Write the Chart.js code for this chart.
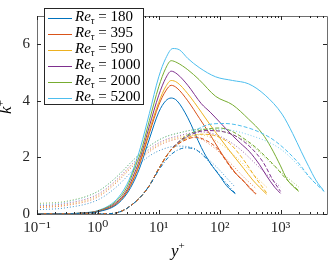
<!DOCTYPE html>
<html><head><meta charset="utf-8">
<script src="https://cdn.jsdelivr.net/npm/chart.js@4"></script>
<style>
html,body{margin:0;padding:0;background:#fff;}
#wrap{position:relative;width:332px;height:261px;overflow:hidden;}
#c{position:absolute;left:0;top:0;}
#legend{position:absolute;left:44px;top:8px;width:100px;height:97px;border:1px solid #262626;background:#fff;box-sizing:border-box;font-family:"Liberation Serif","DejaVu Serif",serif;font-size:15px;color:#000;}
.row{position:absolute;left:0;height:16px;line-height:16px;white-space:nowrap;}
.sw{position:absolute;left:3px;top:8px;width:24px;height:0;border-top:1.3px solid;}
.lt{position:absolute;left:30px;top:-2px;}
.lt sub{font-size:10px;vertical-align:-3px;line-height:0;font-style:italic;}
.ttl{position:absolute;font-family:"Liberation Serif","DejaVu Serif",serif;font-size:17px;font-style:italic;color:#000;white-space:nowrap;}
.ttl sup{font-size:11px;font-style:normal;line-height:0;vertical-align:7px;}
</style></head>
<body>
<div id="wrap">
<canvas id="c" width="332" height="261"></canvas>
<div id="legend"></div>
<div class="ttl" id="ylab" style="left:-1px;top:97px;transform:rotate(-90deg);transform-origin:50% 50%;">k<sup>+</sup></div>
<div class="ttl" id="xlab" style="left:171px;top:241px;">y<sup>+</sup></div>
</div>
<script>
// ---- labels / ticks ----
const reLabels = ['180','395','590','1000','2000','5200'];
const colors = ['#0072BD','#D95319','#EDB120','#7E2F8E','#77AC30','#4DBEEE'];
const xTickValues = [0.1,1,10,100,1000];
const xTickLabels = ['10\u207B\u00B9','10\u2070','10\u00B9','10\u00B2','10\u00B3'];
const yTickValues = [0,2,4,6];
const yTickLabels = ['0','2','4','6'];

// ---- solid: k+ ----
const ySolid180 = [0.1,0.3,0.6,1,2,3,4,5,7,10,13,16,20,30,50,70,100,130,180];
const kSolid180 = [0.001,0.008,0.03,0.08,0.32,0.72,1.2,1.7,2.65,3.6,4.0,4.1,4.0,3.4,2.35,1.8,1.35,1.0,0.72];
const ySolid395 = [0.1,0.3,0.6,1,2,3,4,5,7,10,13,16,20,30,47,70,100,128,200,240,300,395];
const kSolid395 = [0.001,0.008,0.03,0.09,0.35,0.78,1.3,1.85,2.85,3.85,4.35,4.55,4.45,4.0,3.37,2.8,2.25,1.9,1.35,1.2,0.95,0.7];
const ySolid590 = [0.1,0.3,0.6,1,2,3,4,5,7,10,13,16,20,30,50,70,100,163,250,350,450,590];
const kSolid590 = [0.001,0.008,0.03,0.09,0.36,0.8,1.35,1.9,2.95,3.95,4.5,4.72,4.65,4.25,3.6,3.15,2.7,2.1,1.6,1.2,0.95,0.7];
const ySolid1000 = [0.1,0.3,0.6,1,2,3,4,5,7,10,13,16,20,30,50,70,100,163,220,310,450,590,800,1000];
const kSolid1000 = [0.001,0.009,0.035,0.1,0.4,0.85,1.45,2.0,3.1,4.2,4.8,5.05,4.95,4.55,3.9,3.6,3.25,2.77,2.5,2.2,1.75,1.35,0.95,0.73];
const ySolid2000 = [0.1,0.3,0.6,1,2,3,4,5,7,10,13,16,20,30,46,86,163,300,500,700,1000,1260,1600,2000];
const kSolid2000 = [0.001,0.01,0.04,0.11,0.45,0.95,1.6,2.15,3.3,4.5,5.15,5.42,5.35,5.1,4.75,4.16,3.86,3.35,2.85,2.35,1.7,1.25,0.98,0.8];
const ySolid5200 = [0.1,0.3,0.6,1,2,3,4,5,7,10,13,17,22,30,46,86,163,300,560,1060,1580,2200,2900,3800,5200];
const kSolid5200 = [0.001,0.012,0.045,0.12,0.5,1.05,1.7,2.35,3.55,4.85,5.5,5.85,5.8,5.5,5.18,4.85,4.72,4.6,4.2,3.53,2.85,2.2,1.68,1.2,0.8];

// ---- dashed ----
const yDash180 = [0.1,1,2,3,5,7,10,15,20,28,40,52,70,86,125,180];
const kDash180 = [0,0,0.04,0.2,0.6,1.0,1.55,2.05,2.25,2.34,2.28,2.1,1.8,1.55,1.12,0.73];
const yDash395 = [0.1,1,2,3,5,7,10,15,20,30,40,60,89,130,163,250,395];
const kDash395 = [0,0,0.04,0.2,0.6,1.0,1.6,2.2,2.45,2.65,2.72,2.6,2.34,1.85,1.55,1.15,0.72];
const yDash590 = [0.1,1,2,3,5,7,10,15,20,30,50,80,145,250,400,590];
const kDash590 = [0,0,0.04,0.2,0.6,1.0,1.6,2.2,2.45,2.7,2.82,2.78,2.5,1.9,1.25,0.75];
const yDash1000 = [0.1,1,2,3,5,7,10,15,20,30,60,100,213,500,750,1000];
const kDash1000 = [0,0,0.04,0.2,0.6,1.0,1.6,2.2,2.5,2.75,2.95,2.93,2.67,1.88,1.2,0.8];
const yDash2000 = [0.1,1,2,3,5,7,10,15,20,30,60,100,300,740,1260,2000];
const kDash2000 = [0,0,0.04,0.2,0.6,1.0,1.6,2.2,2.5,2.8,3.0,3.04,2.55,1.78,1.22,0.82];
const yDash5200 = [0.1,1,2,3,5,7,10,15,24.5,40,69,120,240,500,850,1800,3300,5200];
const kDash5200 = [0,0,0.04,0.2,0.6,1.0,1.6,2.2,2.6,2.95,3.17,3.2,3.1,2.85,2.55,1.9,1.2,0.8];

// ---- dotted ----
const yDot180 = [0.1,0.3,1,2,4,7,12,20,35,60,100,140,180];
const kDot180 = [0.15,0.22,0.5,0.95,1.6,2.05,2.3,2.4,2.35,2.0,1.55,1.2,0.95];
const yDot395 = [0.1,0.3,1,2,4,7,12,20,40,80,150,250,395];
const kDot395 = [0.22,0.3,0.6,1.1,1.75,2.2,2.5,2.65,2.7,2.35,1.8,1.3,0.9];
const yDot590 = [0.1,0.3,1,2,4,7,12,20,50,100,200,400,590];
const kDot590 = [0.25,0.33,0.65,1.15,1.8,2.25,2.55,2.7,2.8,2.5,1.95,1.3,0.95];
const yDot1000 = [0.1,0.3,1,2,4,7,12,20,50,100,200,400,700,1000];
const kDot1000 = [0.28,0.37,0.7,1.2,1.85,2.3,2.6,2.75,2.9,2.75,2.35,1.75,1.25,0.95];
const yDot2000 = [0.1,0.3,1,2,4,7,12,20,50,100,300,700,1200,2000];
const kDot2000 = [0.37,0.45,0.8,1.3,1.95,2.4,2.7,2.85,3.0,2.95,2.5,1.8,1.35,0.95];
const yDot5200 = [0.1,0.3,1,2,4,7,12,20,50,100,300,1000,2000,3500,5200];
const kDot5200 = [0.32,0.42,0.8,1.3,1.95,2.4,2.7,2.85,3.0,3.0,2.8,2.3,1.7,1.15,0.85];

const solidX = [ySolid180,ySolid395,ySolid590,ySolid1000,ySolid2000,ySolid5200];
const solidK = [kSolid180,kSolid395,kSolid590,kSolid1000,kSolid2000,kSolid5200];
const dashX = [yDash180,yDash395,yDash590,yDash1000,yDash2000,yDash5200];
const dashK = [kDash180,kDash395,kDash590,kDash1000,kDash2000,kDash5200];
const dotX = [yDot180,yDot395,yDot590,yDot1000,yDot2000,yDot5200];
const dotK = [kDot180,kDot395,kDot590,kDot1000,kDot2000,kDot5200];

const pts = (xs, ks) => xs.map((x, i) => ({x: x, y: ks[i]}));
const fade = (hex, a) => {
  const n = parseInt(hex.slice(1), 16);
  return 'rgba(' + (n >> 16) + ',' + ((n >> 8) & 255) + ',' + (n & 255) + ',' + a + ')';
};
const datasets = [];
for (let i = 0; i < 6; i++) {
  datasets.push({data: pts(dotX[i], dotK[i]), borderColor: fade(colors[i], 0.75), borderWidth: 1, borderDash: [1, 2], pointRadius: 0, cubicInterpolationMode: 'monotone', fill: false});
}
for (let i = 0; i < 6; i++) {
  datasets.push({data: pts(dashX[i], dashK[i]), borderColor: colors[i], borderWidth: 1, borderDash: i === 0 ? [4, 2, 1, 2] : [4, 2], pointRadius: 0, cubicInterpolationMode: 'monotone', fill: false});
}
for (let i = 0; i < 6; i++) {
  datasets.push({data: pts(solidX[i], solidK[i]), borderColor: colors[i], borderWidth: 1, pointRadius: 0, cubicInterpolationMode: 'monotone', fill: false});
}

const frameColor = '#6e6e6e';
const framePlugin = {
  id: 'frame',
  afterDraw(chart) {
    const ctx = chart.ctx, a = chart.chartArea;
    const xs = chart.scales.x, ys = chart.scales.y;
    ctx.save();
    ctx.strokeStyle = frameColor;
    ctx.lineWidth = 1;
    ctx.beginPath();
    ctx.rect(Math.round(a.left) + 0.5, Math.round(a.top) + 0.5, Math.round(a.right - a.left), Math.round(a.bottom - a.top));
    ctx.stroke();
    ctx.strokeStyle = '#262626';
    ctx.beginPath();
    for (let e = -1; e <= 3; e++) {
      for (let m = 1; m <= 9; m++) {
        const v = m * Math.pow(10, e);
        if (v < xs.min || v > xs.max) continue;
        const px = Math.round(xs.getPixelForValue(v)) + 0.5;
        const len = m === 1 ? 4 : 2;
        ctx.moveTo(px, a.bottom); ctx.lineTo(px, a.bottom - len);
        ctx.moveTo(px, a.top); ctx.lineTo(px, a.top + len);
      }
    }
    yTickValues.forEach(v => {
      const py = Math.round(ys.getPixelForValue(v)) + 0.5;
      ctx.moveTo(a.left, py); ctx.lineTo(a.left + 4, py);
      ctx.moveTo(a.right, py); ctx.lineTo(a.right - 4, py);
    });
    ctx.stroke();
    ctx.restore();
  }
};

new Chart(document.getElementById('c'), {
  type: 'line',
  data: {datasets: datasets},
  options: {
    responsive: false,
    animation: false,
    devicePixelRatio: 1,
    layout: {padding: {top: 2, right: 5, left: 0, bottom: 0}},
    plugins: {legend: {display: false}, tooltip: {enabled: false}},
    scales: {
      x: {
        type: 'logarithmic', min: 0.1, max: 5800,
        grid: {display: false, drawTicks: false},
        border: {display: false},
        afterBuildTicks: s => { s.ticks = xTickValues.map(v => ({value: v})); },
        afterFit: s => { s.height = 47; },
        ticks: {
          autoSkip: false, maxRotation: 0, padding: 5, color: '#262626',
          font: {family: '"Liberation Serif","DejaVu Serif",serif', size: 15},
          callback: (v, i) => xTickLabels[i]
        }
      },
      y: {
        type: 'linear', min: 0, max: 7,
        grid: {display: false, drawTicks: false},
        border: {display: false},
        afterBuildTicks: s => { s.ticks = yTickValues.map(v => ({value: v})); },
        afterFit: s => { s.width = 37; },
        ticks: {
          padding: 7, color: '#262626',
          font: {family: '"Liberation Serif","DejaVu Serif",serif', size: 15},
          callback: (v, i) => yTickLabels[i]
        }
      }
    }
  },
  plugins: [framePlugin]
});

// legend
const lg = document.getElementById('legend');
reLabels.forEach((r, i) => {
  const row = document.createElement('div');
  row.className = 'row';
  row.style.top = (1 + i * 16) + 'px';
  row.innerHTML = '<span class="sw" style="border-color:' + colors[i] + '"></span><span class="lt"><i>Re</i><sub>\u03C4</sub> = ' + r + '</span>';
  lg.appendChild(row);
});
</script>
</body></html>
